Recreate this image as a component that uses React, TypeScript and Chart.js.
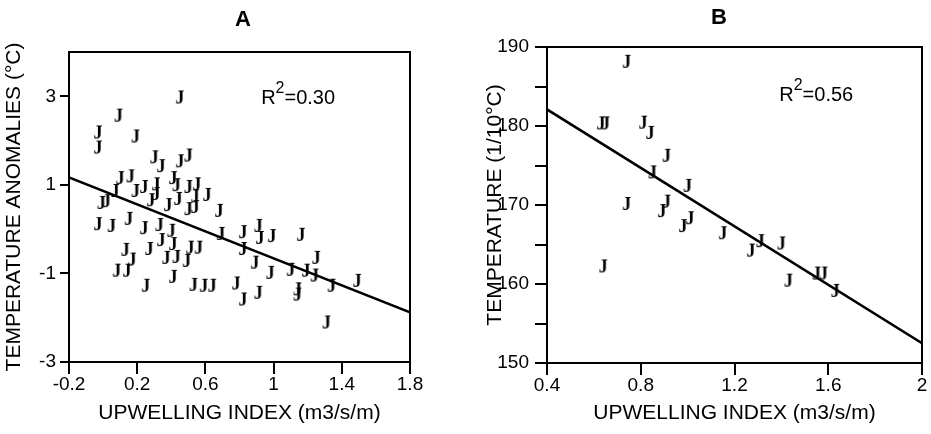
import React, { useEffect, useRef } from 'react';
import { Chart, registerables } from 'chart.js';
Chart.register(...registerables);

// ---------- Panel A data ----------
const upwellingA = [
  0.45, 0.09, -0.03, -0.03, 0.19, 0.30, 0.34, 0.45, 0.50, 0.10,
  0.16, 0.07, 0.19, 0.24, 0.31, 0.31, 0.41, 0.43, 0.50, 0.55,
  0.54, 0.61, -0.01, 0.02, 0.28, 0.38, 0.44, 0.50, 0.54, 0.68,
  -0.03, 0.05, 0.15, 0.24, 0.33, 0.34, 0.40, 0.41, 0.13, 0.17,
  0.27, 0.37, 0.43, 0.49, 0.51, 0.56, 0.08, 0.14, 0.25, 0.41,
  0.53, 0.59, 0.64, 0.69, 0.82, 0.82, 0.91, 0.92, 0.89, 0.99,
  1.16, 0.98, 0.78, 0.82, 0.91, 1.10, 1.19, 1.24, 1.25, 1.34,
  1.49, 1.14, 1.14, 1.31,
];
const anomalyA = [
  2.95, 2.54, 2.16, 1.82, 2.07, 1.60, 1.40, 1.51, 1.64, 1.13,
  1.17, 0.84, 0.84, 0.93, 0.99, 0.77, 1.13, 0.97, 0.93, 0.99,
  0.72, 0.75, 0.57, 0.61, 0.63, 0.52, 0.66, 0.43, 0.48, 0.39,
  0.09, 0.05, 0.21, 0.00, 0.07, -0.27, -0.06, -0.36, -0.49, -0.71,
  -0.47, -0.67, -0.65, -0.74, -0.44, -0.44, -0.96, -0.96, -1.30, -1.10,
  -1.28, -1.30, -1.30, -0.13, -0.09, -0.47, 0.05, -0.22, -0.78, -0.18,
  -0.15, -1.01, -1.25, -1.61, -1.46, -0.94, -0.96, -1.07, -0.67, -1.30,
  -1.19, -1.38, -1.50, -2.13,
];
const fitXA = [-0.2, 1.8];
const fitYA = [1.17, -1.88];
const xTicksA = [-0.2, 0.2, 0.6, 1, 1.4, 1.8];
const yTicksA = [-3, -1, 1, 3];
const r2A = 'R²=0.30';

// ---------- Panel B data ----------
const upwellingB = [
  0.74, 0.63, 0.65, 0.81, 0.84, 0.91, 0.85, 1.00, 0.74, 0.91,
  0.89, 1.01, 0.98, 1.15, 1.27, 1.31, 1.40, 1.43, 1.55, 1.58,
  1.63, 0.64,
];
const temperatureB = [
  188.0, 180.2, 180.2, 180.3, 179.0, 176.1, 174.0, 172.3, 170.0, 170.3,
  169.1, 168.2, 167.2, 166.3, 164.1, 165.3, 165.0, 160.3, 161.2, 161.2,
  159.0, 162.1,
];
const fitXB = [0.4, 2];
const fitYB = [182.1, 152.5];
const xTicksB = [0.4, 0.8, 1.2, 1.6, 2];
const yTicksB = [150, 155, 160, 165, 170, 175, 180, 185, 190];
const yLabelsB = [150, 160, 170, 180, 190];
const r2B = 'R²=0.56';

const SANS = '"Liberation Sans", Arial, sans-serif';

const framePlugin = {
  id: 'frame',
  afterDraw(chart: any, _args: any, opts: any) {
    const { ctx, chartArea: a } = chart;
    ctx.save();
    ctx.strokeStyle = '#000';
    ctx.lineWidth = 2;
    ctx.strokeRect(a.left, a.top, a.right - a.left, a.bottom - a.top);
    ctx.fillStyle = '#000';
    ctx.font = 'bold 22px ' + SANS;
    ctx.textAlign = 'center';
    ctx.textBaseline = 'middle';
    ctx.fillText(opts.letter, opts.letterX, opts.letterY);
    const px = chart.scales.x.getPixelForValue(opts.rx);
    const py = chart.scales.y.getPixelForValue(opts.ry);
    ctx.textAlign = 'left';
    ctx.textBaseline = 'alphabetic';
    ctx.font = '20px ' + SANS;
    ctx.fillText('R', px, py);
    const wR = ctx.measureText('R').width;
    ctx.font = '16px ' + SANS;
    ctx.fillText('2', px + wR, py - 11);
    const w2 = ctx.measureText('2').width;
    ctx.font = '20px ' + SANS;
    const rest = String(opts.label).split('=')[1];
    ctx.fillText('=' + rest, px + wR + w2, py);
    ctx.restore();
  },
};

function makeJ(): HTMLCanvasElement {
  const c = document.createElement('canvas');
  c.width = 16;
  c.height = 22;
  const g = c.getContext('2d')!;
  g.fillStyle = '#000';
  g.font = 'bold 18px "Liberation Serif", "Times New Roman", serif';
  g.textAlign = 'center';
  g.textBaseline = 'middle';
  g.fillText('J', 8, 11);
  return c;
}

function makeConfig(p: any, jImg: HTMLCanvasElement): any {
  const pts = p.xs.map((x: number, i: number) => ({ x, y: p.ys[i] }));
  const fit = p.fx.map((x: number, i: number) => ({ x, y: p.fy[i] }));
  return {
    type: 'scatter',
    data: {
      datasets: [
        {
          data: pts,
          pointStyle: jImg,
          pointRadius: 8,
          showLine: false,
        },
        {
          type: 'line',
          data: fit,
          borderColor: '#000',
          borderWidth: 2.5,
          pointRadius: 0,
          showLine: true,
          fill: false,
        },
      ],
    },
    options: {
      responsive: false,
      animation: false,
      devicePixelRatio: 1,
      layout: { padding: p.padding },
      plugins: {
        legend: { display: false },
        tooltip: { enabled: false },
        frame: p.frame,
      },
      scales: {
        x: {
          type: 'linear',
          min: p.xMin,
          max: p.xMax,
          afterBuildTicks: (s: any) => { s.ticks = p.xTicks.map((v: number) => ({ value: v })); },
          afterFit: (s: any) => { s.height = p.xHeight; },
          ticks: {
            callback: (v: any) => String(v),
            font: { family: SANS, size: 19, lineHeight: 1 },
            color: '#000',
            padding: 1,
            maxRotation: 0,
            autoSkip: false,
          },
          grid: { drawOnChartArea: false, drawTicks: true, tickLength: 12, color: '#000', lineWidth: 2 },
          border: { display: true, color: '#000', width: 2 },
          title: {
            display: true,
            text: 'UPWELLING INDEX (m3/s/m)',
            font: { family: SANS, size: 21, lineHeight: 1 },
            color: '#000',
            padding: { top: 0, bottom: 10 },
          },
        },
        y: {
          type: 'linear',
          min: p.yMin,
          max: p.yMax,
          afterBuildTicks: (s: any) => { s.ticks = p.yTicks.map((v: number) => ({ value: v })); },
          afterFit: (s: any) => { s.width = p.yWidth; },
          ticks: {
            callback: (v: any) => (p.yLabels.includes(v) ? String(v) : ''),
            font: { family: SANS, size: 19, lineHeight: 1 },
            color: '#000',
            padding: p.yTickPad,
            autoSkip: false,
          },
          grid: { drawOnChartArea: false, drawTicks: true, tickLength: p.yTickLen, color: '#000', lineWidth: 2 },
          border: { display: true, color: '#000', width: 2 },
          title: {
            display: true,
            text: p.yTitle,
            font: { family: SANS, size: 21, lineHeight: 1 },
            color: '#000',
            padding: { top: p.yTitlePad, bottom: 0 },
          },
        },
      },
    },
    plugins: [framePlugin],
  };
}

export default function App() {
  const refA = useRef<HTMLCanvasElement>(null);
  const refB = useRef<HTMLCanvasElement>(null);

  useEffect(() => {
    const jImg = makeJ();
    const a = new Chart(refA.current!, makeConfig({
      xs: upwellingA, ys: anomalyA, fx: fitXA, fy: fitYA,
      xMin: -0.2, xMax: 1.8, yMin: -3, yMax: 4,
      xTicks: xTicksA, yTicks: yTicksA, yLabels: yTicksA,
      padding: { left: 0, right: 55, top: 52, bottom: 0 },
      xHeight: 72, yWidth: 69, yTickLen: 9, yTickPad: 4, yTitlePad: 4,
      yTitle: 'TEMPERATURE ANOMALIES (°C)',
      frame: { letter: 'A', letterX: 243, letterY: 20, rx: 0.927, ry: 2.836, label: r2A },
    }, jImg));
    const b = new Chart(refB.current!, makeConfig({
      xs: upwellingB, ys: temperatureB, fx: fitXB, fy: fitYB,
      xMin: 0.4, xMax: 2, yMin: 150, yMax: 190,
      xTicks: xTicksB, yTicks: yTicksB, yLabels: yLabelsB,
      padding: { left: 0, right: 8, top: 47, bottom: 0 },
      xHeight: 71, yWidth: 82, yTickLen: 12, yTickPad: 6, yTitlePad: 20,
      yTitle: 'TEMPERATURE (1/10°C)',
      frame: { letter: 'B', letterX: 254, letterY: 18, rx: 1.391, ry: 183.12, label: r2B },
    }, jImg));
    return () => { a.destroy(); b.destroy(); };
  }, []);

  return (
    <div style={{ position: 'fixed', left: 0, top: 0, width: 931, height: 434, background: '#fff' }}>
      <canvas ref={refA} width={465} height={434} style={{ position: 'absolute', left: 0, top: 0 }} />
      <canvas ref={refB} width={466} height={434} style={{ position: 'absolute', left: 465, top: 0 }} />
    </div>
  );
}
